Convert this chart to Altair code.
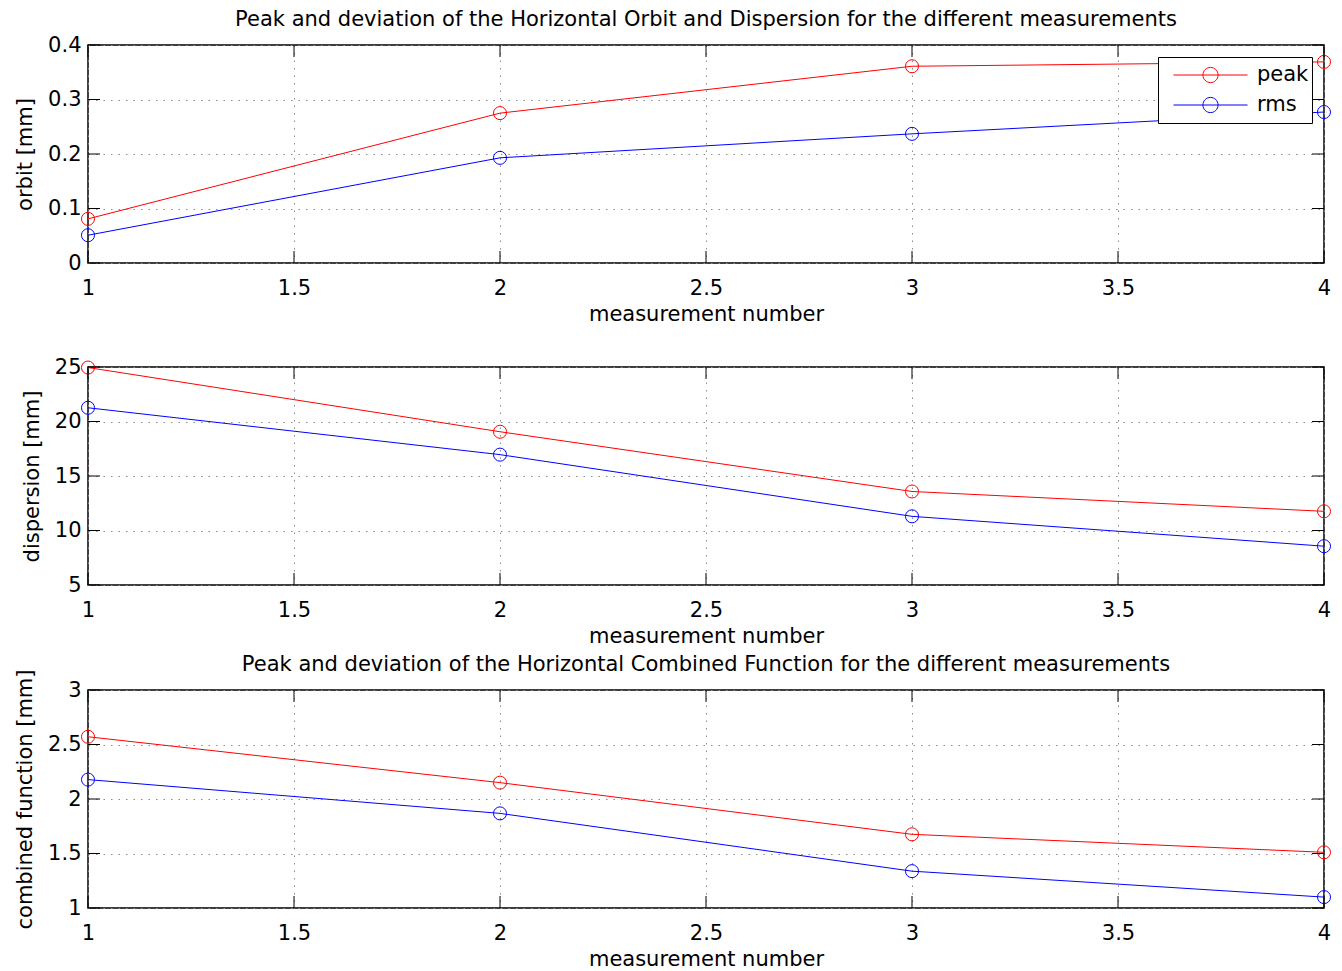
import altair as alt
import pandas as pd

# ---------------- data ----------------
measurements = [1, 2, 3, 4]
series = ["peak", "rms"]
colors = ["#ff0000", "#0000ff"]

orbit_peak = [0.081, 0.275, 0.361, 0.369]
orbit_rms = [0.051, 0.193, 0.237, 0.277]
disp_peak = [24.95, 19.06, 13.58, 11.76]
disp_rms = [21.26, 16.96, 11.30, 8.56]
comb_peak = [2.571, 2.150, 1.676, 1.511]
comb_rms = [2.178, 1.868, 1.338, 1.100]

x_ticks = [1, 1.5, 2, 2.5, 3, 3.5, 4]
orbit_ticks = [0, 0.1, 0.2, 0.3, 0.4]
disp_ticks = [5, 10, 15, 20, 25]
comb_ticks = [1, 1.5, 2, 2.5, 3]

title_top = "Peak and deviation of the Horizontal Orbit and Dispersion for the different measurements"
title_bottom = "Peak and deviation of the Horizontal Combined Function for the different measurements"
x_title = "measurement number"

# ---------------- style ----------------
W, H = 1236, 218
FONT = "DejaVu Sans"
FS = 21
TICK = 12
LEGEND_PATH = "M-1,0L1,0M0.205,0A0.205,0.205 0 1,1 -0.205,0A0.205,0.205 0 1,1 0.205,0"


def panel(peak, rms, yticks, ytitle, title=None, title_offset=0):
    df = pd.DataFrame({
        "m": measurements * 2,
        "v": peak + rms,
        "s": [series[0]] * len(peak) + [series[1]] * len(rms),
    })
    xscale = alt.Scale(domain=[x_ticks[0], x_ticks[-1]], nice=False, zero=False)
    yscale = alt.Scale(domain=[yticks[0], yticks[-1]], nice=False, zero=False)
    xaxis = alt.Axis(values=x_ticks, format="~g", title=x_title)
    yaxis = alt.Axis(values=yticks, format="~g", title=ytitle)
    x = alt.X("m:Q", scale=xscale, axis=xaxis)
    y = alt.Y("v:Q", scale=yscale, axis=yaxis)
    color = alt.Color(
        "s:N",
        scale=alt.Scale(domain=series, range=colors),
        legend=alt.Legend(
            title=None, orient="top-right", offset=12,
            strokeColor="black", fillColor="white", padding=3,
            symbolType=LEGEND_PATH, symbolSize=5476, symbolStrokeWidth=1,
            symbolOffset=12, labelOffset=9, labelFont=FONT, labelFontSize=FS,
            labelColor="black", clipHeight=30, rowPadding=0,
            symbolFillColor="transparent",
        ),
    )
    lines = alt.Chart(df).mark_line(strokeWidth=1).encode(x=x, y=y, color=color)
    points = alt.Chart(df).mark_point(filled=False, size=170, strokeWidth=1, opacity=1).encode(
        x=x, y=y, color=color)

    xt = pd.DataFrame({"t": x_ticks})
    yt = pd.DataFrame({"t": yticks})
    xt_enc = alt.X("t:Q", scale=xscale, axis=xaxis)
    yt_enc = alt.Y("t:Q", scale=yscale, axis=yaxis)
    tb = alt.Chart(xt).mark_rule(color="black", strokeWidth=1).encode(
        x=xt_enc, y=alt.value(H), y2=alt.value(H - TICK))
    tt = alt.Chart(xt).mark_rule(color="black", strokeWidth=1).encode(
        x=xt_enc, y=alt.value(0), y2=alt.value(TICK))
    tl = alt.Chart(yt).mark_rule(color="black", strokeWidth=1).encode(
        y=yt_enc, x=alt.value(0), x2=alt.value(TICK))
    tr = alt.Chart(yt).mark_rule(color="black", strokeWidth=1).encode(
        y=yt_enc, x=alt.value(W - TICK), x2=alt.value(W))

    props = dict(width=W, height=H)
    if title:
        props["title"] = alt.TitleParams(
            text=title, font=FONT, fontSize=FS, fontWeight="normal",
            color="black", anchor="middle", frame="group",
            baseline="alphabetic", offset=title_offset)
    return alt.layer(lines, points, tb, tt, tl, tr).properties(**props)


p1 = panel(orbit_peak, orbit_rms, orbit_ticks, "orbit [mm]", title_top, -13)
p2 = panel(disp_peak, disp_rms, disp_ticks, "dispersion [mm]")
p3 = panel(comb_peak, comb_rms, comb_ticks, "combined function [mm]", title_bottom, -23)

upper = alt.vconcat(p1, p2, spacing=30)
chart = alt.vconcat(upper, p3, spacing=6).properties(
    padding={"left": 5, "top": 0, "right": -3, "bottom": 0}
).configure_view(
    stroke="black", strokeWidth=1.5
).configure_axis(
    labelFont=FONT, labelFontSize=FS, labelColor="black",
    titleFont=FONT, titleFontSize=FS, titleFontWeight="normal", titleColor="black",
    ticks=False, tickSize=0, domain=False, labelFlush=False,
    grid=True, gridColor="#8c8c8c", gridDash=[1.5, 6], gridWidth=1,
).configure_axisX(
    labelPadding=14, titlePadding=5,
).configure_axisY(
    labelPadding=7, titlePadding=12,
)

chart.save("out.html", embed_options={"renderer": "svg", "actions": False})
